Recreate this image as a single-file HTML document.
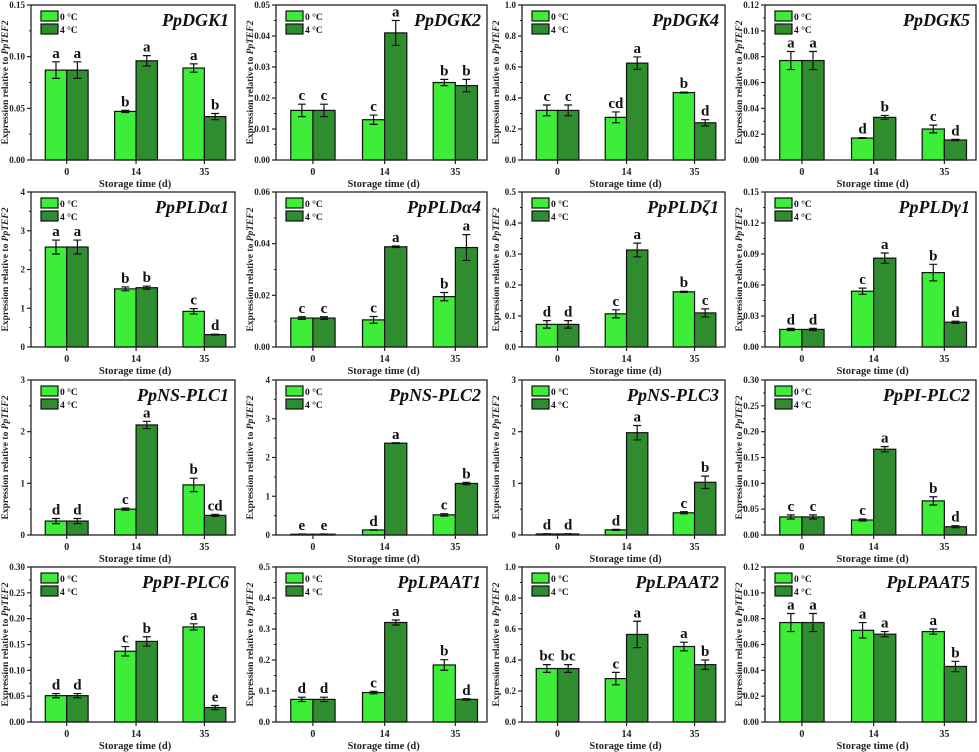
<!DOCTYPE html>
<html><head><meta charset="utf-8">
<style>
html,body{margin:0;padding:0;background:#fff;}
svg{display:block;font-family:"Liberation Serif",serif;}
</style></head>
<body>
<svg id="fig" width="979" height="752" viewBox="0 0 979 752"></svg>
<script>
const titles=["PpDGK1","PpDGK2","PpDGK4","PpDGK5","PpPLDα1","PpPLDα4","PpPLDζ1","PpPLDγ1","PpNS-PLC1","PpNS-PLC2","PpNS-PLC3","PpPI-PLC2","PpPI-PLC6","PpLPAAT1","PpLPAAT2","PpLPAAT5"];
const categories=["0","14","35"];
const yMax=[0.15,0.05,1.0,0.12,4,0.06,0.5,0.15,3,4,3,0.30,0.30,0.5,1.0,0.12];
const yStep=[0.05,0.01,0.2,0.02,1,0.02,0.1,0.03,1,1,1,0.05,0.05,0.1,0.2,0.02];
const yDec=[2,2,1,2,0,2,1,2,0,0,0,2,2,1,1,2];
const vals0=[[.087,.047,.089],[.016,.013,.025],[.32,.275,.435],[.077,.017,.024],[2.58,1.5,.92],[.0112,.0105,.0195],[.073,.107,.178],[.017,.054,.072],[.27,.5,.97],[.02,.13,.52],[.02,.1,.43],[.035,.029,.066],[.051,.137,.184],[.073,.095,.184],[.345,.28,.487],[.077,.071,.07]];
const vals4=[[.087,.096,.042],[.016,.041,.024],[.32,.625,.24],[.077,.033,.0155],[2.58,1.53,.32],[.0112,.0388,.0385],[.073,.313,.11],[.017,.086,.024],[.27,2.13,.38],[.02,2.37,1.33],[.02,1.98,1.02],[.035,.166,.016],[.051,.156,.028],[.073,.321,.073],[.345,.565,.37],[.077,.068,.043]];
const errs0=[[.008,.001,.004],[.002,.0015,.001],[.035,.035,.003],[.007,.0003,.003],[.18,.05,.07],[.0005,.0013,.0016],[.012,.013,.002],[.001,.003,.008],[.05,.02,.13],[.005,.005,.03],[.005,.01,.02],[.004,.002,.008],[.004,.009,.006],[.007,.004,.017],[.025,.04,.028],[.007,.006,.002]];
const errs4=[[.008,.005,.003],[.002,.004,.002],[.035,.04,.02],[.007,.0015,.0005],[.18,.04,.01],[.0005,.0003,.005],[.012,.022,.013],[.001,.005,.001],[.05,.07,.02],[.005,.01,.03],[.005,.14,.12],[.004,.005,.002],[.004,.009,.004],[.007,.008,.002],[.025,.085,.03],[.007,.002,.004]];
const letters0=[["a","b","a"],["c","c","b"],["c","cd","b"],["a","d","c"],["a","b","c"],["c","c","b"],["d","c","b"],["d","c","b"],["d","c","b"],["e","d","c"],["d","d","c"],["c","c","b"],["d","c","a"],["d","c","b"],["bc","c","a"],["a","a","a"]];
const letters4=[["a","a","b"],["c","a","b"],["c","a","d"],["a","b","d"],["a","b","d"],["c","a","a"],["d","a","c"],["d","a","d"],["d","a","cd"],["e","a","b"],["d","a","b"],["c","a","d"],["d","b","e"],["d","a","d"],["bc","a","b"],["a","a","b"]];

const NS="http://www.w3.org/2000/svg";
const svg=document.getElementById('fig');
const colL=[31,276,522,765],colR=[235,487,725,976];
const rowT=[5,192,380,567],PH=155;
const gpos=[0.175,0.515,0.85],bw=0.105;
const LIGHT="#3ded38",DARK="#2f8d2f";
function mk(tag,attrs,parent,txt){const e=document.createElementNS(NS,tag);for(const k in attrs)e.setAttribute(k,attrs[k]);if(txt!==undefined)e.textContent=txt;(parent||svg).appendChild(e);return e;}

for(let p=0;p<16;p++){
  const c=p%4,r=Math.floor(p/4);
  const L=colL[c],R=colR[c],T=rowT[r],B=T+PH,W=R-L;
  const g=mk('g',{});
  
  
  const ys=v=>B-v/yMax[p]*PH;
  const xs=i=>L+gpos[i]*W;
  for(let i=0;i<3;i++){
    [[vals0,errs0,letters0,LIGHT,-1,'0c'],[vals4,errs4,letters4,DARK,0,'4c']].forEach(s=>{
      const v=s[0][p][i],e=s[1][p][i];
      const x0=xs(i)+s[4]*bw*W, bwp=bw*W;
      const rect=mk('rect',{x:x0,y:ys(v),width:bwp,height:B-ys(v),fill:s[3],stroke:'#111','stroke-width':1.2},g);
      
      
      const cx=x0+bwp/2,cw=4;
      const eb=mk('path',{d:`M${cx},${ys(v+e)}V${ys(v-e)}M${cx-cw},${ys(v+e)}H${cx+cw}M${cx-cw},${ys(v-e)}H${cx+cw}`,stroke:'#111','stroke-width':1.2,fill:'none'},g);
      
      
      const lt=mk('text',{x:cx,y:ys(v+e)-4,'text-anchor':'middle','font-size':15,'font-weight':'bold',fill:'#111'},g,s[2][p][i]);
      
      
    });
  }
  const fr=mk('rect',{x:L,y:T,width:W,height:PH,fill:'none',stroke:'#222','stroke-width':1.3},g);
  
  
  const n=Math.round(yMax[p]/yStep[p]);
  for(let k=0;k<=n;k++){
    const v=k*yStep[p],y=ys(v);
    mk('line',{x1:L-4,x2:L,y1:y,y2:y,stroke:'#222','stroke-width':1.2},g);
    if(k<n){const ym=ys(v+yStep[p]/2);mk('line',{x1:L-2,x2:L,y1:ym,y2:ym,stroke:'#222','stroke-width':1},g);}
    const tl=mk('text',{x:L-6,y:y+3,'text-anchor':'end','font-size':9,'font-weight':'bold',fill:'#222'},g,v.toFixed(yDec[p]));
    
    
  }
  for(let i=0;i<3;i++){
    mk('line',{x1:xs(i),x2:xs(i),y1:B,y2:B+4,stroke:'#222','stroke-width':1.2},g);
    const xl=mk('text',{x:xs(i),y:B+15,'text-anchor':'middle','font-size':10,'font-weight':'bold',fill:'#222'},g,categories[i]);
    
    
  }
  const xt=mk('text',{x:L+W*0.51,y:B+27,'text-anchor':'middle','font-size':10.5,'font-weight':'bold',fill:'#222'},g,'Storage time (d)');
  
  
  const yt=mk('text',{x:0,y:0,'text-anchor':'middle','font-size':9.5,'font-weight':'bold',fill:'#222',transform:`translate(${L-23},${T+PH/2}) rotate(-90)`},g);
  
  
  mk('tspan',{},yt,'Expression relative to ');
  mk('tspan',{'font-style':'italic'},yt,'PpTEF2');
  const ti=mk('text',{x:R-6,y:T+21,'text-anchor':'end','font-size':18,'font-weight':'bold','font-style':'italic',fill:'#111'},g,titles[p]);
  
  
  [[LIGHT,'0 °C'],[DARK,'4 °C']].forEach((s,j)=>{
    const lg=mk('g',{},g);
    
    
    mk('rect',{x:L+10,y:T+6+j*13,width:17,height:10,fill:s[0],stroke:'#111','stroke-width':1.2},lg);
    mk('text',{x:L+29,y:T+15+j*13,'font-size':9.5,'font-weight':'bold',fill:'#111'},lg,s[1]);
  });
}
</script>
</body></html>
